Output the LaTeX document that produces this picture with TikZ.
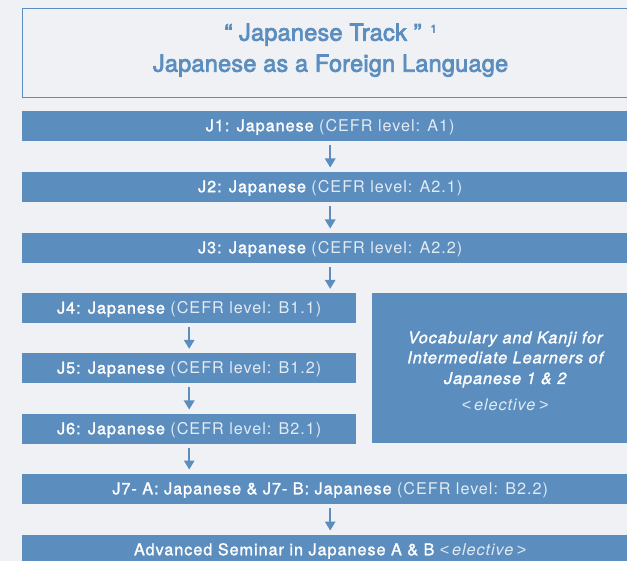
\documentclass[tikz,border=0pt]{standalone}
\usepackage{fontspec}
\usetikzlibrary{arrows.meta}
\setmainfont{TeX Gyre Heros}
\newfontfamily\medfont[LetterSpace=6,FakeBold=1.4]{TeX Gyre Heros}
\newfontfamily\lightfont[LetterSpace=6]{TeX Gyre Heros}
\newfontfamily\anglefont{Liberation Sans}
\newfontfamily\titlefont[LetterSpace=1,FakeBold=3]{TeX Gyre Heros}
\definecolor{jblue}{HTML}{5B8DBE}
\definecolor{jbg}{HTML}{EFF1F5}
\definecolor{jlight}{HTML}{E2EAF3}
\newcommand{\jparen}[1]{{\lightfont\color{jlight}#1}}
\newcommand{\jelect}{{\lightfont\color{jlight}{\anglefont<}\,\textit{elective}\,{\anglefont>}}}
\begin{document}
\begin{tikzpicture}[x=1pt,y=-1pt,
  bar/.style={fill=jblue, inner sep=0pt, minimum height=29.5pt, text=white,
    font=\medfont\fontsize{16.2}{19}\selectfont, text height=10.6pt, text depth=0pt, anchor=north west},
  wide/.style={bar, minimum width=616pt},
  half/.style={bar, minimum width=334pt},
  flow/.style={draw=jblue, line width=1.5pt, -{Triangle[width=10.5pt,length=9pt]},
    shorten <=4pt, shorten >=4.5pt},
  vtext/.style={anchor=base, text=white, font=\medfont\itshape\fontsize{16.2}{19}\selectfont, inner sep=0pt},
  ttext/.style={anchor=base, text=jblue, font=\titlefont\fontsize{23.5}{28}\selectfont, inner sep=0pt}]
\clip (0,0) rectangle (627,561);
\fill[jbg] (0,0) rectangle (627,561);
\node[draw=jblue, line width=1.1pt, fill=jbg, minimum width=616pt, minimum height=88.4pt,
  inner sep=0pt, anchor=north west] (title) at (22,8.3) {};
\node[ttext] (t1) at ([yshift=-32.4pt]title.north) {“ Japanese Track ”\hspace{9pt}\raisebox{8pt}{\fontsize{11}{13}\selectfont 1}};
\node[ttext] (t2) at ([yshift=-63.4pt]title.north) {Japanese as a Foreign Language};

\node[wide] (j1) at (22,111) {J1: Japanese \jparen{(CEFR level: A1)}};
\node[wide] (j2) at (22,172) {J2: Japanese \jparen{(CEFR level: A2.1)}};
\node[wide] (j3) at (22,233) {J3: Japanese \jparen{(CEFR level: A2.2)}};
\node[half] (j4) at (22,293.3) {J4: Japanese \jparen{(CEFR level: B1.1)}};
\node[half] (j5) at (22,353.3) {J5: Japanese \jparen{(CEFR level: B1.2)}};
\node[half] (j6) at (22,414) {J6: Japanese \jparen{(CEFR level: B2.1)}};
\node[wide] (j7) at (22,474) {J7- A: Japanese \& J7- B: Japanese \jparen{(CEFR level: B2.2)}};
\node[wide] (adv) at (22,535) {Advanced Seminar in Japanese A \& B \jelect};

\node[fill=jblue, inner sep=0pt, minimum width=266pt, minimum height=150pt, anchor=north west] (voc) at (372,293.3) {};
\node[vtext] (v1) at ([yshift=-50pt]voc.north) {Vocabulary and Kanji for};
\node[vtext] (v2) at ([yshift=-70pt]voc.north) {Intermediate Learners of};
\node[vtext] (v3) at ([yshift=-90.7pt]voc.north) {Japanese 1 \& 2};
\node[vtext] (v4) at ([yshift=-117.4pt]voc.north) {\upshape\jelect};

\draw[flow] (j1.south) -- (j2.north);
\draw[flow] (j2.south) -- (j3.north);
\draw[flow] (j3.south) -- (j3.south |- j4.north);
\draw[flow] (j4.south) -- (j5.north);
\draw[flow] (j5.south) -- (j6.north);
\draw[flow] (j6.south) -- (j6.south |- j7.north);
\draw[flow] (j7.south) -- (adv.north);
\end{tikzpicture}
\end{document}
